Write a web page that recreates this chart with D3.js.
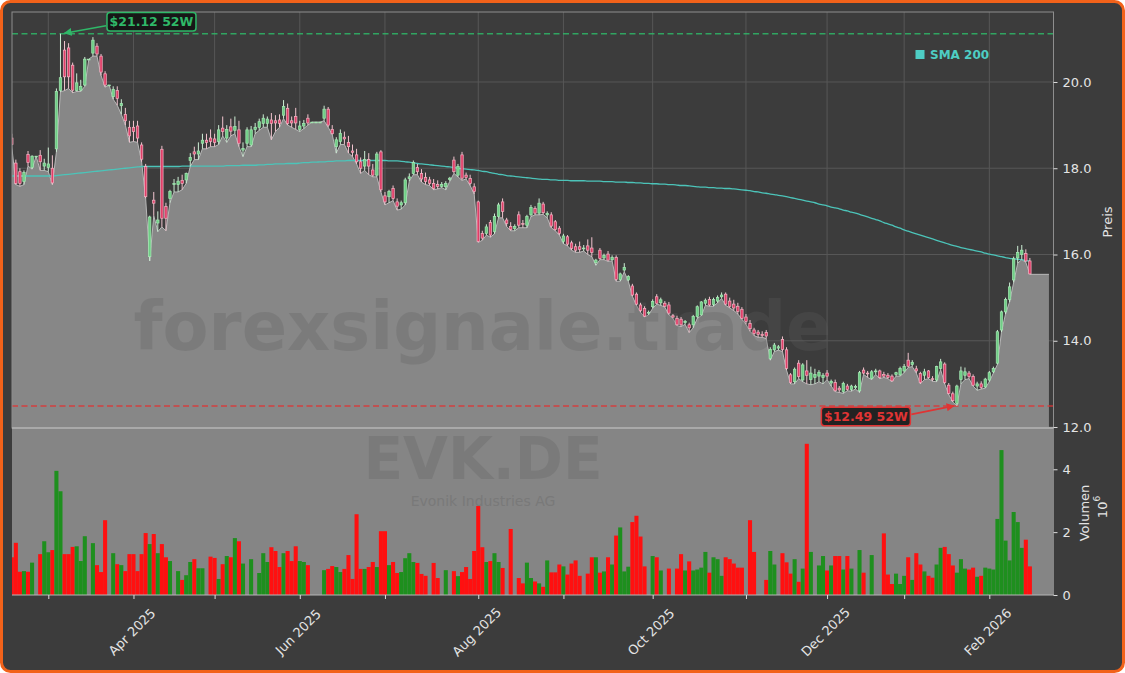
<!DOCTYPE html>
<html><head><meta charset="utf-8">
<script src="https://cdnjs.cloudflare.com/ajax/libs/d3/7.8.5/d3.min.js"></script>
<style>
html,body{margin:0;padding:0;background:#ffffff;}
svg{display:block;font-family:"DejaVu Sans",sans-serif;}
</style></head><body>
<svg id="chart" width="1125" height="673"></svg>
<script>
// ---------------- DATA ----------------
const ticker = "EVK.DE";
const companyName = "Evonik Industries AG";
const watermarkText = "forexsignale.trade";
const startDate = "2025-02-18";
const holidays = ["2025-04-18","2025-04-21","2025-05-01","2025-12-24","2025-12-25","2025-12-26","2025-12-31","2026-01-01"];

const open = [
18.70,18.12,17.92,17.69,18.32,18.02,18.28,18.30,18.05,18.02,
18.00,18.45,19.80,20.74,20.79,20.39,19.80,19.81,19.93,20.53,
20.67,20.83,20.60,20.19,19.93,19.66,19.80,19.45,19.25,18.95,
18.95,18.98,18.54,18.04,15.95,17.26,16.73,18.44,17.11,17.30,
17.62,17.62,17.72,17.73,18.18,18.38,18.33,18.58,18.65,18.70,
18.68,18.62,18.93,18.70,18.96,18.88,18.89,18.42,18.58,18.54,
18.90,18.95,19.04,19.04,19.12,19.10,19.12,19.23,19.39,19.10,
19.20,18.90,18.98,19.16,19.07,19.07,19.07,19.16,19.37,18.90,
18.50,18.62,18.72,18.60,18.40,18.31,18.15,18.05,18.20,17.96,
17.84,18.38,17.36,17.34,17.53,17.22,17.15,17.20,17.76,17.88,
18.02,17.88,17.79,17.73,17.65,17.62,17.58,17.57,17.74,18.19,
17.84,18.31,17.84,17.76,17.57,17.22,16.49,16.49,16.74,16.53,
16.88,17.22,16.80,16.65,16.60,16.92,16.72,16.68,16.92,17.07,
16.96,17.17,16.92,16.92,16.76,16.61,16.30,16.41,16.27,16.18,
16.18,16.15,16.20,16.15,15.81,16.10,15.92,16.01,15.88,15.93,
15.42,15.64,15.41,15.27,15.08,14.83,14.75,14.64,14.79,15.02,
14.88,14.87,14.83,14.58,14.52,14.50,14.42,14.37,14.37,14.56,
14.60,14.87,14.96,14.84,14.92,15.02,15.08,14.92,14.85,14.80,
14.73,14.55,14.40,14.25,14.20,14.15,14.19,13.59,13.79,13.83,
14.03,13.79,13.21,13.05,13.48,13.09,13.30,13.10,13.15,13.18,
13.15,13.25,13.02,13.03,12.90,12.82,12.95,12.87,12.92,12.84,
13.32,13.25,13.13,13.28,13.30,13.22,13.20,13.18,13.22,13.21,
13.30,13.55,13.45,13.35,13.24,13.20,13.30,13.12,13.09,13.36,
13.46,12.97,12.77,12.55,13.10,13.20,13.25,13.17,12.95,13.00,
12.93,13.09,13.28,13.48,14.25,14.67,14.96,15.41,15.92,16.00,
16.02,15.85];

const high = [
18.80,18.20,18.00,17.95,18.40,18.30,18.28,18.42,18.22,18.48,
18.30,19.85,21.12,20.95,20.90,20.45,20.20,20.05,20.58,20.53,
21.04,20.90,20.65,20.25,19.93,19.90,19.90,19.60,19.40,19.10,
19.10,19.10,18.60,18.10,16.90,17.45,17.00,18.52,17.20,17.50,
17.75,17.80,17.85,17.90,18.35,18.50,18.60,18.80,18.80,18.90,
18.80,19.00,19.20,19.00,19.15,19.20,19.10,18.60,18.95,18.98,
19.05,19.15,19.25,19.20,19.28,19.23,19.25,19.58,19.50,19.20,
19.40,19.10,19.12,19.25,19.07,19.07,19.07,19.45,19.42,19.00,
18.72,18.90,18.85,18.75,18.55,18.45,18.25,18.40,18.35,18.10,
18.38,18.42,17.45,17.50,17.60,17.30,17.25,17.78,17.88,18.18,
18.10,17.98,17.90,17.80,17.75,17.72,17.68,17.70,17.80,18.27,
18.10,18.38,17.90,17.85,17.65,17.25,16.55,16.70,16.80,16.95,
17.20,17.30,16.85,16.75,16.70,17.00,16.80,16.92,17.15,17.12,
17.30,17.22,17.00,16.98,16.80,16.66,16.48,16.45,16.32,16.25,
16.30,16.22,16.35,16.40,15.90,16.15,16.02,16.08,15.98,15.98,
15.58,15.80,15.52,15.32,15.12,14.88,14.80,14.70,14.96,15.08,
15.00,14.92,14.90,14.62,14.58,14.55,14.48,14.42,14.60,14.82,
14.92,14.98,15.02,15.00,15.05,15.12,15.12,15.00,14.95,14.88,
14.78,14.62,14.48,14.30,14.25,14.22,14.25,13.85,13.95,13.90,
14.10,13.85,13.25,13.38,13.55,13.48,13.55,13.40,13.35,13.32,
13.25,13.32,13.10,13.10,12.95,13.05,13.00,12.98,12.98,13.30,
13.38,13.30,13.32,13.35,13.33,13.28,13.25,13.22,13.28,13.40,
13.46,13.72,13.55,13.42,13.28,13.35,13.32,13.18,13.42,13.58,
13.50,13.02,12.82,12.98,13.40,13.38,13.30,13.22,13.05,13.06,
13.14,13.30,13.40,14.25,14.70,15.00,15.35,15.95,16.20,16.22,
16.12,15.92];

const low = [
18.50,17.62,17.58,17.62,18.05,17.98,18.28,17.95,17.95,17.92,
17.62,18.38,19.77,19.80,19.85,19.75,19.78,19.78,19.90,20.53,
20.60,20.60,20.15,19.88,19.93,19.60,19.46,19.25,19.00,18.60,
18.62,18.60,18.15,17.30,15.85,16.90,16.53,16.64,16.55,17.20,
17.45,17.45,17.50,17.65,18.04,18.20,18.20,18.45,18.45,18.50,
18.50,18.55,18.75,18.60,18.75,18.80,18.50,18.27,18.50,18.50,
18.80,18.88,18.95,18.95,18.66,18.85,18.95,19.15,19.00,18.95,
18.90,18.85,18.92,19.00,19.07,19.07,19.07,19.10,18.95,18.78,
18.35,18.55,18.55,18.35,18.27,18.10,17.88,17.95,17.85,17.80,
17.80,17.45,17.15,17.20,17.25,17.03,17.05,17.15,17.70,17.85,
17.85,17.68,17.62,17.60,17.50,17.52,17.55,17.50,17.70,17.88,
17.80,17.72,17.75,17.60,17.40,16.28,16.33,16.45,16.40,16.48,
16.85,16.85,16.65,16.55,16.55,16.62,16.62,16.62,16.88,16.92,
16.92,16.93,16.85,16.62,16.55,16.45,16.25,16.20,16.10,16.05,
16.05,16.08,16.00,15.95,15.75,15.88,15.88,15.84,15.85,15.38,
15.38,15.60,15.38,15.03,14.82,14.66,14.55,14.60,14.75,14.85,
14.82,14.78,14.60,14.52,14.35,14.33,14.38,14.19,14.30,14.52,
14.58,14.82,14.80,14.80,14.88,14.98,14.82,14.76,14.70,14.62,
14.50,14.38,14.22,14.12,14.08,14.08,14.05,13.55,13.75,13.78,
13.75,13.32,13.00,13.00,13.12,13.05,13.00,12.98,13.00,13.05,
13.00,13.10,12.95,12.82,12.80,12.78,12.84,12.83,12.88,12.80,
13.22,13.15,13.10,13.22,13.12,13.15,13.12,13.05,13.18,13.18,
13.26,13.38,13.40,13.25,13.00,13.10,13.12,13.06,13.05,13.33,
13.00,12.75,12.58,12.49,13.00,13.10,13.12,12.95,12.85,12.88,
12.90,13.05,13.25,13.45,14.20,14.62,14.90,15.35,15.80,15.88,
15.82,15.54];

const close = [
18.55,17.65,17.65,17.90,18.13,18.28,18.28,18.15,18.12,18.10,
17.66,19.78,20.10,20.12,20.12,19.81,19.98,19.90,20.53,20.53,
20.97,20.65,20.23,19.93,19.93,19.83,19.62,19.50,19.10,18.75,
18.85,18.70,18.21,17.34,16.87,17.19,16.80,16.84,16.84,17.46,
17.65,17.70,17.65,17.88,18.25,18.33,18.40,18.65,18.60,18.62,
18.60,18.89,18.85,18.90,18.86,18.97,18.58,18.46,18.89,18.89,
18.95,19.08,19.16,19.14,19.04,19.05,19.04,19.43,19.04,19.05,
19.05,18.98,19.04,19.05,19.07,19.07,19.07,19.37,19.00,18.80,
18.66,18.81,18.68,18.50,18.37,18.15,18.00,18.20,18.05,17.84,
18.33,17.50,17.22,17.46,17.30,17.12,17.20,17.73,17.80,18.13,
17.92,17.75,17.69,17.65,17.53,17.58,17.62,17.65,17.77,17.92,
18.04,17.77,17.79,17.65,17.46,16.30,16.38,16.64,16.45,16.88,
17.15,17.00,16.72,16.58,16.65,16.68,16.70,16.88,17.09,16.96,
17.19,16.97,16.95,16.66,16.58,16.49,16.43,16.24,16.14,16.10,
16.12,16.15,16.10,16.05,15.87,15.91,15.98,15.87,15.93,15.42,
15.55,15.70,15.49,15.06,14.85,14.70,14.57,14.66,14.91,14.87,
14.95,14.80,14.64,14.55,14.37,14.37,14.45,14.30,14.56,14.79,
14.90,14.94,14.83,14.96,15.00,15.06,14.85,14.80,14.76,14.68,
14.52,14.45,14.28,14.17,14.15,14.12,14.11,13.80,13.90,13.86,
13.80,13.36,13.03,13.34,13.17,13.44,13.20,13.25,13.22,13.27,
13.20,13.18,13.06,12.84,12.86,13.01,12.87,12.95,12.94,13.26,
13.25,13.24,13.28,13.30,13.15,13.18,13.15,13.07,13.26,13.36,
13.40,13.41,13.50,13.30,13.03,13.28,13.15,13.10,13.40,13.51,
13.03,12.78,12.61,12.95,13.30,13.28,13.17,12.97,13.00,12.92,
13.11,13.26,13.36,14.21,14.67,14.96,15.25,15.90,16.05,16.10,
15.85,15.55];

// volume in millions
const volume = [
1.20,1.66,0.74,0.76,0.74,1.03,0,1.30,1.71,1.36,
1.43,3.95,3.30,1.30,1.30,1.53,1.55,1.08,1.87,0,
1.65,0.95,0.73,2.38,0,1.33,0.98,0.95,0.76,1.30,
1.30,0.76,1.30,1.97,1.62,1.94,1.33,1.62,1.20,1.08,
0,0.76,0.48,0.63,1.05,1.14,0.85,0.85,0,1.22,
1.18,0.51,0.98,1.24,1.20,1.81,1.71,1.00,0,1.14,
0,0.70,1.33,1.05,1.52,1.40,0.89,1.33,1.40,1.08,
1.55,1.08,1.05,0.95,0,0,0,0.79,0.83,0.92,
0.89,0.73,0.83,1.27,0.51,2.57,0.83,0.83,0.89,1.05,
0.89,2.03,2.03,0.95,1.05,0.70,0.73,1.17,1.33,1.05,
1.02,0.67,0.61,0,1.02,0.54,0,0.79,0,0.76,
0.60,0.73,0.89,0.51,1.40,2.83,1.52,1.05,1.08,1.33,
1.05,0.86,0,2.10,0,0.54,0.37,1.03,0.54,0.43,
0.37,0.26,1.10,0.72,0.72,0.97,0.91,0.65,1.00,1.10,
0.61,0,0.68,1.20,1.20,0.71,0.75,1.20,0.97,1.89,
2.15,0.75,0.90,2.32,2.52,1.86,0.91,0,1.24,1.20,
0.78,0,0.84,0,0.84,1.30,0.78,1.07,0.78,0.81,
0.87,1.37,0.71,1.20,1.14,0.61,1.20,1.14,1.00,0.87,
0.87,0,2.38,1.37,0,0,0.48,1.40,0.97,0,
1.33,1.04,0.68,1.14,0.42,0.84,4.81,1.37,0,0.94,
1.24,0.78,0.94,1.24,1.24,0.81,1.24,0.84,0,1.43,
0.71,0,1.27,0,0,1.96,0.65,0.35,0.68,0.35,
0.61,1.20,0.48,1.33,0.97,0.75,0.61,0.55,0.97,1.50,
1.53,1.30,0.94,0.71,1.14,0.84,0.81,0.87,0.58,0.61,
0.87,0.84,0.81,2.42,4.61,1.73,1.10,2.64,2.32,1.50,
1.76,0.91];

const sma200 = [
17.82,17.82,17.82,17.82,17.82,17.82,17.82,17.82,17.82,17.82,17.82,
17.83,17.84,17.85,17.86,17.87,17.88,17.89,17.90,17.91,17.92,
17.93,17.94,17.95,17.96,17.97,17.98,17.99,18.00,18.01,18.02,18.03,18.04,
18.04,18.04,18.04,18.04,18.04,18.04,18.04,18.04,18.04,
18.05,18.05,18.05,18.05,18.05,18.05,18.05,18.05,18.05,
18.05,18.05,18.06,18.06,18.06,18.06,18.07,18.07,18.07,18.07,
18.08,18.08,18.09,18.09,18.10,18.10,18.10,18.11,18.11,18.11,
18.12,18.13,18.13,18.14,18.14,18.15,18.15,18.16,18.16,18.17,
18.17,18.17,18.18,18.18,18.18,18.18,18.18,18.18,18.18,18.18,
18.18,18.18,18.17,18.17,18.17,18.16,18.15,18.14,18.13,18.11,
18.10,18.09,18.08,18.07,18.06,18.05,18.04,18.03,18.02,18.00,
17.99,17.98,17.97,17.96,17.95,17.93,17.92,17.90,17.88,17.86,
17.85,17.83,17.82,17.81,17.80,17.79,17.78,17.77,17.76,17.75,
17.74,17.74,17.73,17.73,17.72,17.72,17.72,17.71,17.71,17.71,
17.71,17.70,17.70,17.70,17.70,17.69,17.69,17.69,17.68,17.68,
17.68,17.67,17.67,17.66,17.66,17.65,17.65,17.64,17.64,17.63,
17.63,17.62,17.62,17.61,17.60,17.60,17.59,17.58,17.57,17.56,
17.56,17.55,17.55,17.54,17.54,17.53,17.53,17.52,17.51,17.50,
17.49,17.48,17.46,17.45,17.43,17.42,17.40,17.39,17.37,17.36,
17.34,17.32,17.30,17.28,17.26,17.24,17.22,17.20,17.17,17.15,
17.13,17.10,17.08,17.06,17.03,17.01,16.98,16.96,16.93,16.90,
16.87,16.84,16.81,16.78,16.74,16.71,16.68,16.64,16.61,16.57,
16.54,16.51,16.48,16.45,16.42,16.39,16.36,16.33,16.30,16.27,
16.24,16.21,16.19,16.16,16.14,16.12,16.10,16.08,16.06,16.03,
16.01,15.99,15.97,15.95,15.93,15.91,15.90,15.89,15.88,15.86,15.85];

const priceTicks = [12, 14, 16, 18, 20];
const volumeTicks = [0, 2, 4];
const priceLabel = "Preis";
const volumeLabel = "Volumen";
const legendLabel = "SMA 200";

// ---------------- LAYOUT / STYLE ----------------
const W = 1125, H = 673;
const L = 12, R = 1053.5, PT = 12, PB = 428, VT = 428, VB = 595;
const C = {
  bg: "#3c3c3c", border: "#f2621a", area: "#878787", areaLine: "#b8b8b8",
  volBg: "#858585", grid: "#575757", frame: "#8e8e8e", text: "#e4e4e4",
  upBody: "#6fcf86", upEdge: "#a6e8b4", upWick: "#cdeed5",
  dnBody: "#e03e68", dnEdge: "#f4b4c4", dnWick: "#f1c4cf",
  volUp: "#1e8f1e", volDn: "#ff1010", sma: "#4cc4b9", legend: "#4ecdc4",
  hi: "#2fb868", lo: "#e03434"
};

function tradingDays(start, count, hol) {
  const out = []; const d = new Date(start + "T00:00:00Z");
  while (out.length < count) {
    const wd = d.getUTCDay(), s = d.toISOString().slice(0, 10);
    if (wd !== 0 && wd !== 6 && !hol.includes(s)) out.push(new Date(d));
    d.setUTCDate(d.getUTCDate() + 1);
  }
  return out;
}

const n = close.length;
const dates = tradingDays(startDate, n, holidays);
const x = d3.scaleLinear().domain([0, n - 1 + 5.7]).range([11.8, 1053]);
const step = x(1) - x(0);
const y = d3.scaleLinear().domain([11.977, 21.623]).range([PB, PT]);
const yv = d3.scaleLinear().domain([0, 5.313]).range([VB, VT]);

const svg = d3.select("#chart");
svg.append("rect").attr("x", 1.5).attr("y", 1.5).attr("width", W - 3).attr("height", H - 3)
  .attr("rx", 9).attr("fill", C.bg).attr("stroke", C.border).attr("stroke-width", 3);

const defs = svg.append("defs");
defs.append("clipPath").attr("id", "clipP").append("rect")
  .attr("x", L).attr("y", PT).attr("width", R - L).attr("height", PB - PT);
defs.append("clipPath").attr("id", "clipV").append("rect")
  .attr("x", L).attr("y", VT).attr("width", R - L).attr("height", VB - VT);
["hi", "lo"].forEach(k => {
  defs.append("marker").attr("id", "arr-" + k).attr("viewBox", "0 0 10 10")
    .attr("refX", 9).attr("refY", 5).attr("markerWidth", 5).attr("markerHeight", 5)
    .attr("orient", "auto").append("path").attr("d", "M0,0L10,5L0,10z").attr("fill", C[k]);
});

// month ticks (first trading day of each month)
const monthIdx = [];
for (let i = 1; i < n; i++) if (dates[i].getUTCMonth() !== dates[i - 1].getUTCMonth()) monthIdx.push(i);
const fmtMonth = d3.utcFormat("%b %Y");

// ---------- price panel ----------
const gP = svg.append("g").attr("clip-path", "url(#clipP)");
gP.selectAll(".hg").data(priceTicks).join("line")
  .attr("x1", L).attr("x2", R).attr("y1", d => y(d)).attr("y2", d => y(d))
  .attr("stroke", C.grid).attr("stroke-width", 1);
gP.selectAll(".vg").data(monthIdx).join("line")
  .attr("x1", d => x(d)).attr("x2", d => x(d)).attr("y1", PT).attr("y2", PB)
  .attr("stroke", C.grid).attr("stroke-width", 1);

const areaPts = low.map((v, i) => [i, v]);
areaPts.push([n - 1 + 4.7, low[n - 1]]);
gP.append("path").datum(areaPts)
  .attr("d", d3.area().x(d => x(d[0])).y0(PB).y1(d => y(d[1])))
  .attr("fill", C.area);
gP.append("path").datum(areaPts)
  .attr("d", d3.line().x(d => x(d[0])).y(d => y(d[1])))
  .attr("fill", "none").attr("stroke", C.areaLine).attr("stroke-width", 1);

gP.append("text").attr("x", 482.5).attr("y", 350).attr("text-anchor", "middle")
  .attr("font-size", 67).attr("font-weight", "bold").attr("fill", "#5e5e5e").attr("opacity", 0.27)
  .text(watermarkText);

gP.append("path").datum(sma200)
  .attr("d", d3.line().x((d, i) => x(i)).y(d => y(d)).curve(d3.curveMonotoneX))
  .attr("fill", "none").attr("stroke", C.sma).attr("stroke-width", 1.3);

const maxHigh = d3.max(high), minLow = d3.min(low);
const iHigh = high.indexOf(maxHigh), iLow = low.indexOf(minLow);
gP.append("line").attr("x1", L).attr("x2", R).attr("y1", y(maxHigh)).attr("y2", y(maxHigh))
  .attr("stroke", C.hi).attr("stroke-width", 1.5).attr("stroke-dasharray", "6,3.5").attr("opacity", 0.85);
gP.append("line").attr("x1", L).attr("x2", R).attr("y1", y(minLow)).attr("y2", y(minLow))
  .attr("stroke", C.lo).attr("stroke-width", 1.5).attr("stroke-dasharray", "6,3.5").attr("opacity", 0.85);

const bw = step * 0.6;
const cg = gP.selectAll(".candle").data(d3.range(n)).join("g");
cg.append("line")
  .attr("x1", i => x(i)).attr("x2", i => x(i))
  .attr("y1", i => y(high[i])).attr("y2", i => y(low[i]))
  .attr("stroke", i => close[i] >= open[i] ? C.upWick : C.dnWick).attr("stroke-width", 1);
cg.append("rect")
  .attr("x", i => x(i) - bw / 2).attr("width", bw)
  .attr("y", i => y(Math.max(open[i], close[i])))
  .attr("height", i => Math.max(0.8, Math.abs(y(open[i]) - y(close[i]))))
  .attr("fill", i => close[i] >= open[i] ? C.upBody : C.dnBody)
  .attr("stroke", i => close[i] >= open[i] ? C.upEdge : C.dnEdge).attr("stroke-width", 0.7);

// frame
svg.append("rect").attr("x", L).attr("y", PT).attr("width", R - L).attr("height", PB - PT)
  .attr("fill", "none").attr("stroke", C.frame).attr("stroke-width", 1);

// ---------- volume panel ----------
svg.append("rect").attr("x", L).attr("y", VT).attr("width", R - L + 0.5).attr("height", VB - VT).attr("fill", C.volBg);
const gV = svg.append("g").attr("clip-path", "url(#clipV)");
gV.append("text").attr("x", 483).attr("y", 479).attr("text-anchor", "middle")
  .attr("font-size", 58).attr("font-weight", "bold").attr("fill", "#5e5e5e").attr("opacity", 0.27).text(ticker);
gV.append("text").attr("x", 483).attr("y", 506).attr("text-anchor", "middle")
  .attr("font-size", 14).attr("fill", "#5e5e5e").attr("opacity", 0.3).text(companyName);
gV.selectAll(".vb").data(d3.range(n)).join("rect")
  .attr("x", i => x(i) - step / 2).attr("width", step)
  .attr("y", i => yv(volume[i])).attr("height", i => VB - yv(volume[i]))
  .attr("fill", i => close[i] >= open[i] ? C.volUp : C.volDn);
svg.append("line").attr("x1", L).attr("x2", R).attr("y1", PB).attr("y2", PB)
  .attr("stroke", "#a9a9a9").attr("stroke-width", 2);
svg.append("line").attr("x1", L).attr("x2", R + 0.5).attr("y1", VB).attr("y2", VB)
  .attr("stroke", "#b5b5b5").attr("stroke-width", 1.2);

// ---------- axes ----------
function styleAxis(g) {
  g.select(".domain").remove();
  g.selectAll("line").attr("stroke", "#dcdcdc");
  g.selectAll("text").attr("fill", C.text).attr("font-size", 13).attr("font-family", "DejaVu Sans, sans-serif");
}
svg.append("g").attr("transform", `translate(${R},0)`)
  .call(d3.axisRight(y).tickValues(priceTicks).tickFormat(d3.format(".1f")).tickSize(4).tickPadding(5))
  .call(styleAxis);
svg.append("g").attr("transform", `translate(${R},0)`)
  .call(d3.axisRight(yv).tickValues(volumeTicks).tickFormat(d3.format("d")).tickSize(4).tickPadding(5))
  .call(styleAxis);
const gx = svg.append("g").attr("transform", `translate(0,${VB})`)
  .call(d3.axisBottom(x).tickValues(monthIdx).tickSize(4)
    .tickFormat(i => dates[i].getUTCMonth() % 2 === 1 ? fmtMonth(dates[i]) : ""))
  .call(styleAxis);
gx.selectAll("text").attr("y", null).attr("dy", null)
  .attr("text-anchor", "middle").attr("dominant-baseline", "central")
  .attr("transform", "translate(-2,37) rotate(-45)");

svg.append("text").attr("transform", "translate(1107,222) rotate(-90)")
  .attr("text-anchor", "middle").attr("dominant-baseline", "central")
  .attr("fill", C.text).attr("font-size", 13).text(priceLabel);
svg.append("text").attr("transform", "translate(1084,513) rotate(-90)")
  .attr("text-anchor", "middle").attr("dominant-baseline", "central")
  .attr("fill", C.text).attr("font-size", 13).text(volumeLabel);
const t6 = svg.append("text").attr("transform", "translate(1102,507) rotate(-90)")
  .attr("text-anchor", "middle").attr("dominant-baseline", "central")
  .attr("fill", C.text).attr("font-size", 13);
t6.append("tspan").text("10");
t6.append("tspan").attr("dy", -5).attr("font-size", 9).text("6");

// ---------- legend ----------
svg.append("rect").attr("x", 915.5).attr("y", 50).attr("width", 9).attr("height", 9).attr("fill", C.legend);
svg.append("text").attr("x", 930).attr("y", 58.5).attr("fill", C.legend)
  .attr("font-size", 12).attr("font-weight", "bold").text(legendLabel);

// ---------- 52W labels ----------
function extremeLabel(idx, val, k, dx, dy, txt) {
  const px = x(idx), py = y(val);
  const cx = px + dx, cy = py + dy, w = 89, h = 18.5;
  const g = svg.append("g");
  const sx = dx > 0 ? cx - w / 2 - 1 : cx + w / 2 + 1;
  const sy = cy + (dy > 0 ? -2 : 4);
  g.append("line").attr("x1", sx).attr("y1", sy).attr("x2", px + (dx > 0 ? 4 : -3)).attr("y2", py + (dy > 0 ? 0 : -0.5))
    .attr("stroke", C[k]).attr("stroke-width", 1.6).attr("marker-end", `url(#arr-${k})`);
  g.append("rect").attr("x", cx - w / 2).attr("y", cy - h / 2).attr("width", w).attr("height", h)
    .attr("rx", 3).attr("fill", "#111").attr("fill-opacity", 0.85).attr("stroke", C[k]).attr("stroke-width", 1.5);
  g.append("text").attr("x", cx).attr("y", cy).attr("text-anchor", "middle").attr("dominant-baseline", "central")
    .attr("fill", C[k]).attr("font-size", 12.5).attr("font-weight", "bold").text(txt);
}
extremeLabel(iHigh, maxHigh, "hi", 91, -12, `$${maxHigh.toFixed(2)} 52W`);
extremeLabel(iLow, minLow, "lo", -91, 10.5, `$${minLow.toFixed(2)} 52W`);
</script>
</body></html>
